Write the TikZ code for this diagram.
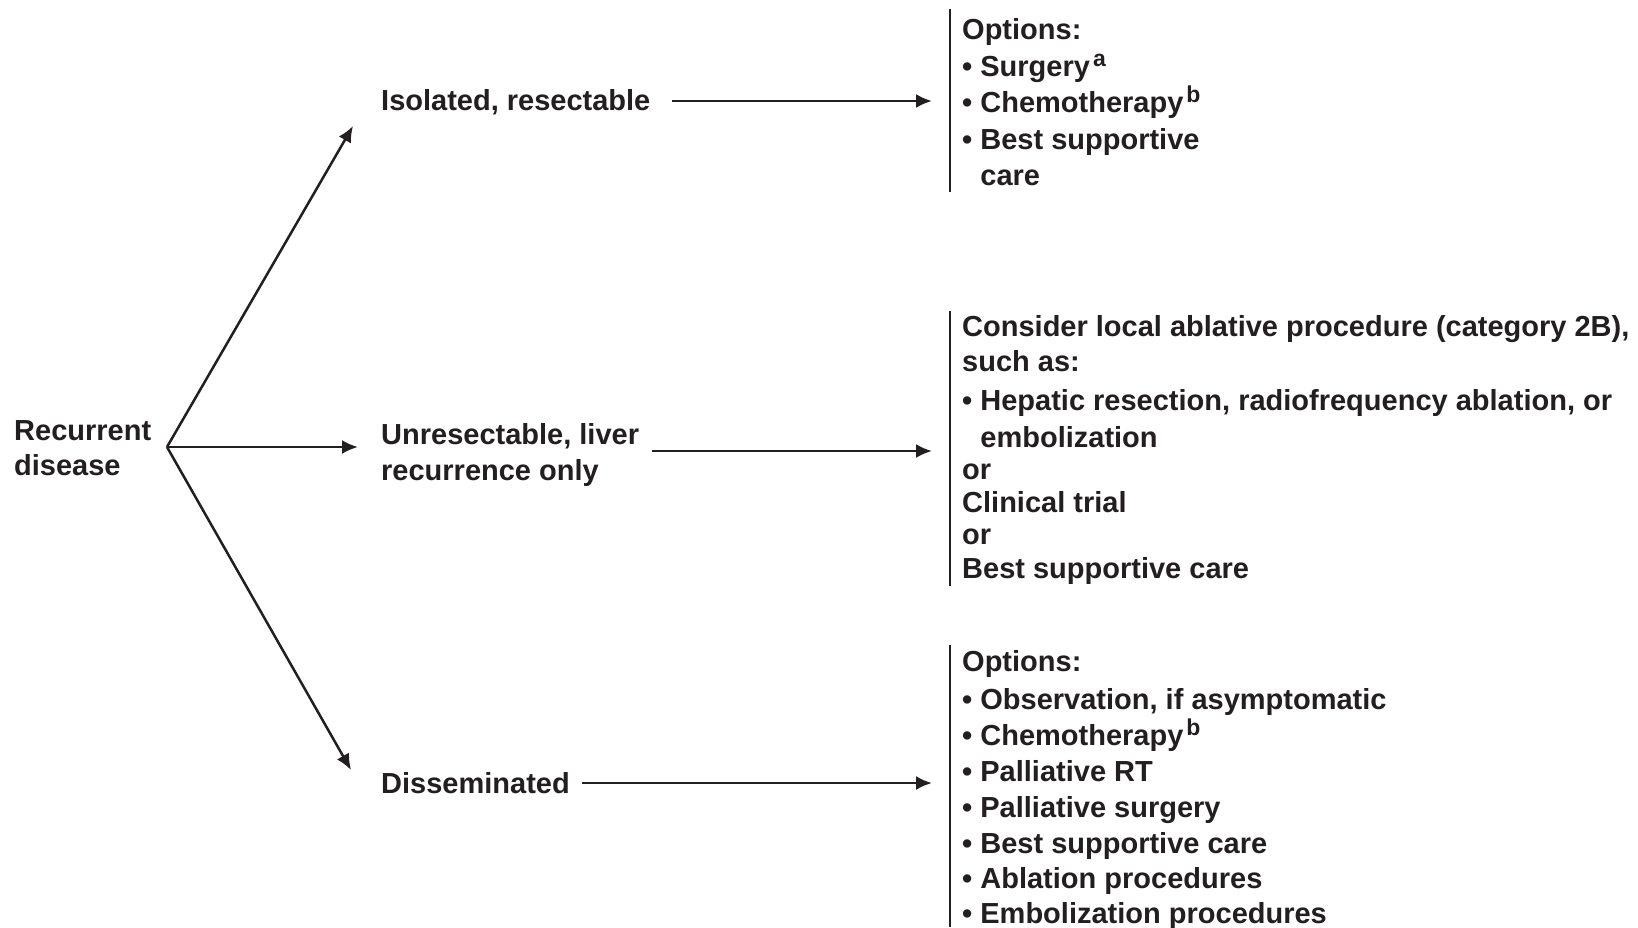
\documentclass[tikz,border=0pt]{standalone}
\usepackage{fontspec}
\setmainfont{Liberation Sans}
\usetikzlibrary{arrows.meta}
\definecolor{ink}{HTML}{231F20}
\newcommand\bodyfont{\fontsize{29}{35}\selectfont\bfseries}
\newcommand\supmark[1]{\hspace{3pt}\raisebox{10pt}{\fontsize{23}{23}\selectfont\bfseries #1}}
\newcommand\bul{\textbullet\ }
\newcommand\hang{\hphantom{\textbullet\ }}
\begin{document}
\begin{tikzpicture}[x=1pt,y=-1pt,
  txt/.style={anchor=base west,inner sep=0pt,font=\bodyfont,text=ink},
  arr/.style={draw=ink,line width=2.5pt,-{Latex[length=16pt,width=14pt]}},
  bar/.style={draw=ink,line width=2.6pt}]
\useasboundingbox[fill=white] (0,0) rectangle (1638,927);

% starting point and the three branches
\node[txt] (rec1) at (14,440) {Recurrent};
\node[txt] (rec2) at (14,475) {disease};
\coordinate (fork) at (167,447);

\node[txt] (iso)  at (381,110)   {Isolated, resectable};
\node[txt] (unr1) at (381,444)   {Unresectable, liver};
\node[txt] (unr2) at (381,480.5) {recurrence only};
\node[txt] (dis)  at (381,793)   {Disseminated};

\coordinate (tipA) at (353,126);
\coordinate (tipB) at (358,447);
\coordinate (tipC) at (351,770);

\draw[arr] (fork) -- (tipA);
\draw[arr] (fork) -- (tipB);
\draw[arr] (fork) -- (tipC);

% bracket bars in front of the option lists
\coordinate (barA1) at (950,9);   \coordinate (barA2) at (950,192);
\coordinate (barB1) at (950,311); \coordinate (barB2) at (950,586);
\coordinate (barC1) at (950,645); \coordinate (barC2) at (950,927);
\draw[bar] (barA1) -- (barA2);
\draw[bar] (barB1) -- (barB2);
\draw[bar] (barC1) -- (barC2);

\coordinate (inA) at (932,101);
\coordinate (inB) at (932,451);
\coordinate (inC) at (932,783);
\draw[arr,shorten <=21pt] (iso.east |- inA) -- (inA);
\draw[arr,shorten <=13pt] (unr1.east |- inB) -- (inB);
\draw[arr,shorten <=12pt] (dis.east |- inC) -- (inC);

% options for isolated, resectable disease
\node[txt] (a1) at (962,39.5)  {Options:};
\node[txt] (a2) at (962,76)    {\bul Surgery\supmark{a}};
\node[txt] (a3) at (962,112.5) {\bul Chemotherapy\supmark{b}};
\node[txt] (a4) at (962,149)   {\bul Best supportive};
\node[txt] (a5) at (962,185.5) {\hang care};

% options for liver-only recurrence
\node[txt] (b1) at (962,336)   {Consider local ablative procedure (category 2B),};
\node[txt] (b2) at (962,371.5) {such as:};
\node[txt] (b3) at (962,410.5) {\bul Hepatic resection, radiofrequency ablation, or};
\node[txt] (b4) at (962,447)   {\hang embolization};
\node[txt] (b5) at (962,479.5) {or};
\node[txt] (b6) at (962,512)   {Clinical trial};
\node[txt] (b7) at (962,544.5) {or};
\node[txt] (b8) at (962,578)   {Best supportive care};

% options for disseminated disease
\node[txt] (c1) at (962,671.5) {Options:};
\node[txt] (c2) at (962,709.5) {\bul Observation, if asymptomatic};
\node[txt] (c3) at (962,745.5) {\bul Chemotherapy\supmark{b}};
\node[txt] (c4) at (962,781.5) {\bul Palliative RT};
\node[txt] (c5) at (962,817)   {\bul Palliative surgery};
\node[txt] (c6) at (962,853)   {\bul Best supportive care};
\node[txt] (c7) at (962,888)   {\bul Ablation procedures};
\node[txt] (c8) at (962,923.5) {\bul Embolization procedures};
\end{tikzpicture}
\end{document}
